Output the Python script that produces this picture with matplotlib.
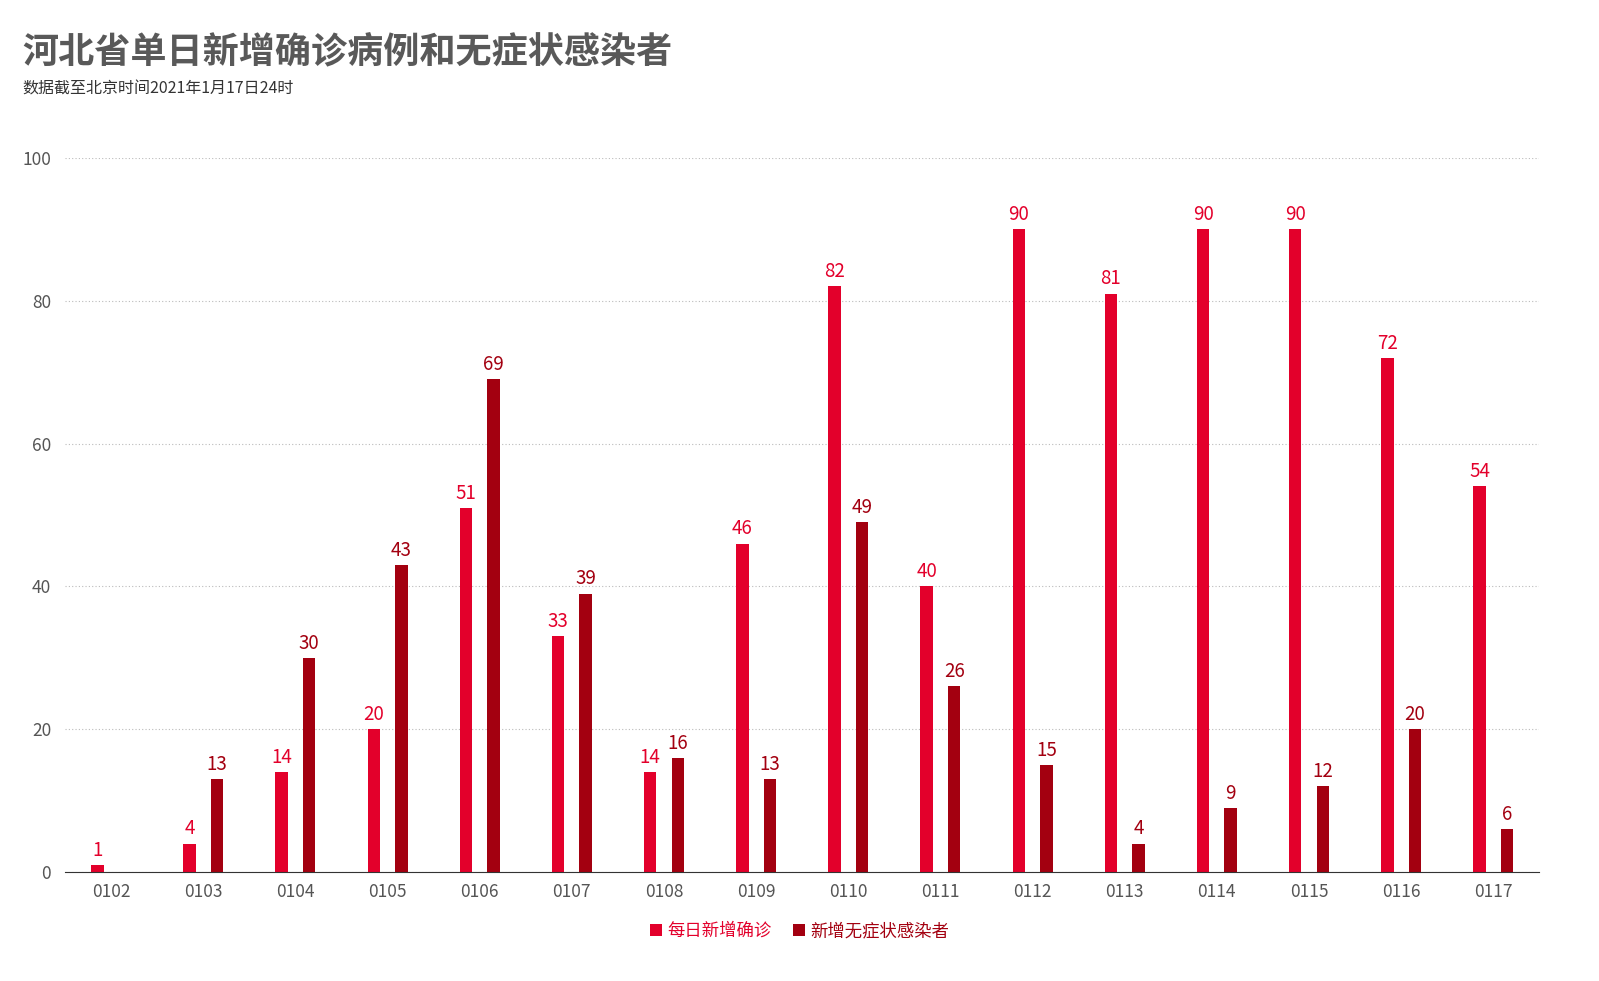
import matplotlib
matplotlib.use("Agg")
import matplotlib.pyplot as plt
import numpy as np

plt.rcParams['font.family'] = ['Noto Sans CJK SC', 'DejaVu Sans']

dates = ["0102","0103","0104","0105","0106","0107","0108","0109","0110","0111","0112","0113","0114","0115","0116","0117"]
confirmed = [1,4,14,20,51,33,14,46,82,40,90,81,90,90,72,54]
asymptomatic = [0,13,30,43,69,39,16,13,49,26,15,4,9,12,20,6]

c1 = "#E3002B"
c2 = "#A30010"

fig = plt.figure(figsize=(15.99, 9.81), dpi=100)
ax = fig.add_axes([0.0407, 0.111, 0.922, 0.728])
x = np.arange(len(dates))
w = 0.135
off = 0.15
b1 = ax.bar(x - off, confirmed, w, color=c1, label="每日新增确诊")
b2 = ax.bar(x + off, asymptomatic, w, color=c2, label="新增无症状感染者")
for xi, v in zip(x, confirmed):
    ax.text(xi - off, v + 0.6, str(v), ha='center', va='bottom', color=c1, fontsize=13.5, fontweight='medium')
for xi, v in zip(x, asymptomatic):
    if v > 0:
        ax.text(xi + off, v + 0.6, str(v), ha='center', va='bottom', color=c2, fontsize=13.5, fontweight='medium')

ax.set_xlim(-0.5, 15.5)
ax.set_ylim(0, 100)
ax.set_yticks([0, 20, 40, 60, 80, 100])
ax.set_xticks(x)
ax.set_xticklabels(dates)
ax.tick_params(axis='both', length=0, colors='#555555', labelsize=12.5)
ax.tick_params(axis='y', pad=10)
ax.tick_params(axis='x', pad=8)
ax.yaxis.grid(True, linestyle=(0, (1, 2)), color='#bbbbbb', linewidth=0.8)
ax.set_axisbelow(True)
for s in ['top', 'right', 'left']:
    ax.spines[s].set_visible(False)
ax.spines['bottom'].set_color('#333333')

fig.text(0.014, 0.935, "河北省单日新增确诊病例和无症状感染者", fontsize=26, fontweight='bold', color='#595959')
fig.text(0.014, 0.905, "数据截至北京时间2021年1月17日24时", fontsize=11.5, color='#333333')

leg = fig.legend(handles=[b1, b2], loc='center', bbox_to_anchor=(0.5, 0.051), ncol=2, frameon=False,
                 fontsize=12.5, handlelength=0.7, handleheight=0.7, handletextpad=0.3, columnspacing=1.2)
for t, c in zip(leg.get_texts(), [c1, c2]):
    t.set_color(c)
    t.set_fontweight('medium')

fig.savefig("out.png", dpi=100)
